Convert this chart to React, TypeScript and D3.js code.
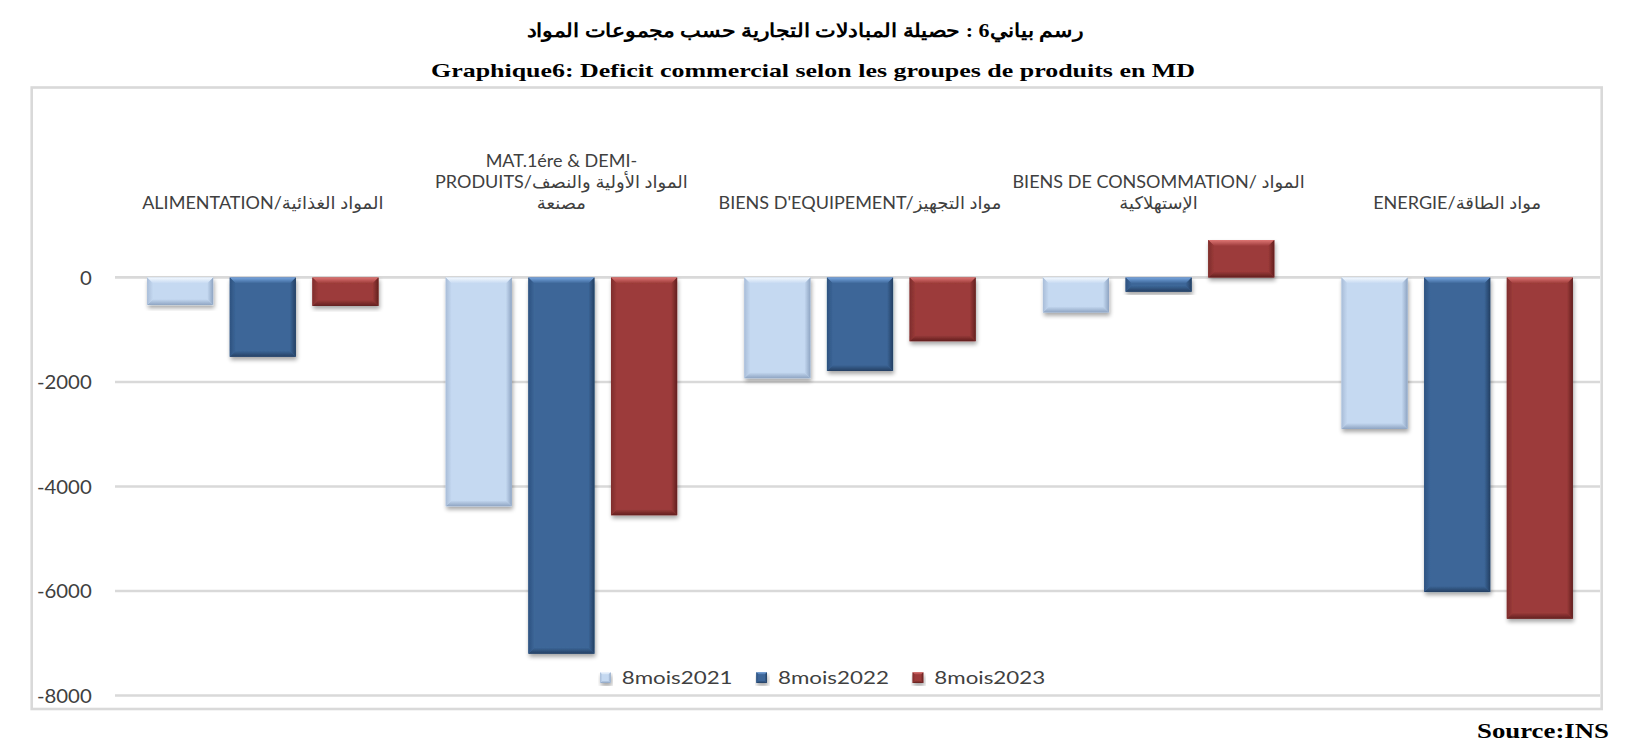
import React, { useEffect, useRef } from "react";
import * as d3 from "d3";

// chart data
const categoryLines: string[][] = [
  ["ALIMENTATION/المواد الغذائية"],
  ["MAT.1ére & DEMI-", "PRODUITS/المواد الأولية والنصف", "مصنعة"],
  ["BIENS D'EQUIPEMENT/مواد التجهيز"],
  ["BIENS DE CONSOMMATION/ المواد", "الإستهلاكية"],
  ["ENERGIE/مواد الطاقة"],
];
const seriesNames = ["8mois2021", "8mois2022", "8mois2023"];
const values2021 = [-530, -4380, -1930, -670, -2900];
const values2022 = [-1520, -7200, -1790, -275, -6020];
const values2023 = [-545, -4550, -1220, 715, -6530];
const yTicks = [0, -2000, -4000, -6000, -8000];

const titleAr = "رسم بياني6 : حصيلة المبادلات التجارية حسب مجموعات المواد";
const titleFr = "Graphique6: Deficit commercial selon les groupes de produits en MD";
const sourceText = "Source:INS";

const colors = [
  { base: "#c5d9f1", hi: "#f4f9ff", lo: "#8ea4c2", side: "#a9bdd8" },
  { base: "#3c6698", hi: "#78a6e0", lo: "#243f62", side: "#2e5280" },
  { base: "#9c3b3a", hi: "#de7573", lo: "#62201f", side: "#7e2d2c" },
];

const W = 1649;
const H = 748;
const SANS = "Lato, 'DejaVu Sans', sans-serif";
const SERIF = "'Liberation Serif', 'DejaVu Serif', serif";

const App = () => {
  const ref = useRef<SVGSVGElement>(null);

  useEffect(() => {
    const svg = d3.select(ref.current);
    svg.selectAll("*").remove();
    svg.attr("width", W).attr("height", H).style("background", "#fff");

    const seriesValues = [values2021, values2022, values2023];
    const idx = categoryLines.map((_, i) => i);

    const x0 = d3.scaleBand<number>().domain(idx).range([113.5, 1606.5]).paddingInner(0.225).paddingOuter(0.1125);
    const x1 = d3.scaleBand<number>().domain([0, 1, 2]).range([0, x0.bandwidth()]).paddingInner(0.2);
    const y = d3.scaleLinear().domain([-8000, 0]).range([695.5, 277.4]);

    const defs = svg.append("defs");
    const f = defs.append("filter").attr("id", "shadow").attr("x", "-20%").attr("y", "-20%").attr("width", "140%").attr("height", "140%");
    f.append("feGaussianBlur").attr("in", "SourceAlpha").attr("stdDeviation", 2.2);
    f.append("feOffset").attr("dx", 1).attr("dy", 3).attr("result", "ob");
    f.append("feComponentTransfer").attr("in", "ob").attr("result", "sh")
      .append("feFuncA").attr("type", "linear").attr("slope", 0.35);
    const merge = f.append("feMerge");
    merge.append("feMergeNode").attr("in", "sh");
    merge.append("feMergeNode").attr("in", "SourceGraphic");

    const soft = defs.append("filter").attr("id", "soft");
    soft.append("feGaussianBlur").attr("stdDeviation", 0.6);

    // gradients for bevel strips
    colors.forEach((c, i) => {
      const mk = (id: string, x2: number, y2: number, a: string, b: string) => {
        const g = defs.append("linearGradient").attr("id", id)
          .attr("x1", 0).attr("y1", 0).attr("x2", x2).attr("y2", y2);
        g.append("stop").attr("offset", "0%").attr("stop-color", a);
        g.append("stop").attr("offset", "100%").attr("stop-color", b);
      };
      mk(`top${i}`, 0, 1, c.hi, c.base);
      mk(`bot${i}`, 0, 1, c.base, c.lo);
      mk(`lft${i}`, 1, 0, c.side, c.base);
      mk(`rgt${i}`, 1, 0, c.base, c.lo);
    });

    const bevelBar = (g: any, x: number, yy: number, w: number, h: number, s: number, b: number) => {
      const bb = Math.min(b, h / 2, w / 2);
      const grp = g.append("g").attr("filter", "url(#shadow)");
      grp.append("rect").attr("x", x).attr("y", yy).attr("width", w).attr("height", h).attr("fill", colors[s].base);
      const bev = grp.append("g").attr("filter", "url(#soft)");
      const poly = (pts: number[][], fill: string) =>
        bev.append("polygon").attr("points", pts.map((p) => p.join(",")).join(" ")).attr("fill", fill);
      poly([[x, yy], [x + w, yy], [x + w - bb, yy + bb], [x + bb, yy + bb]], `url(#top${s})`);
      poly([[x, yy + h], [x + w, yy + h], [x + w - bb, yy + h - bb], [x + bb, yy + h - bb]], `url(#bot${s})`);
      poly([[x, yy], [x + bb, yy + bb], [x + bb, yy + h - bb], [x, yy + h]], `url(#lft${s})`);
      poly([[x + w, yy], [x + w - bb, yy + bb], [x + w - bb, yy + h - bb], [x + w, yy + h]], `url(#rgt${s})`);
    };

    // frame
    svg.append("rect").attr("x", 31.7).attr("y", 87.5).attr("width", 1570).attr("height", 621.5)
      .attr("fill", "#fff").attr("stroke", "#d9d9d9").attr("stroke-width", 2.6);

    // gridlines
    svg.append("g").selectAll("line").data(yTicks).join("line")
      .attr("x1", 115).attr("x2", 1600)
      .attr("y1", (d) => y(d)).attr("y2", (d) => y(d))
      .attr("stroke", "#d9d9d9").attr("stroke-width", 2.6);

    // y tick labels
    svg.append("g").selectAll("text").data(yTicks).join("text")
      .attr("transform", (d) => `translate(91.7,${y(d)}) scale(1.1,1)`)
      .attr("text-anchor", "end").attr("dominant-baseline", "central")
      .attr("font-family", SANS).attr("font-size", 18.5).attr("fill", "#404040")
      .text((d) => String(d));

    // bars
    const barsG = svg.append("g");
    seriesValues.forEach((vals, s) => {
      vals.forEach((v, j) => {
        const x = (x0(j) ?? 0) + (x1(s) ?? 0);
        const top = Math.min(y(0), y(v));
        const h = Math.abs(y(v) - y(0));
        bevelBar(barsG, x, top, x1.bandwidth(), h, s, 6);
      });
    });

    // category labels, placed above the plot, bottom aligned
    const lineH = 20.7;
    const labelBase = 208.5;
    categoryLines.forEach((lines, j) => {
      const cx = (x0(j) ?? 0) + x0.bandwidth() / 2;
      lines.forEach((ln, k) => {
        const by = labelBase - (lines.length - 1 - k) * lineH;
        svg.append("text")
          .attr("transform", `translate(${cx},${by}) scale(1.03,1)`)
          .attr("text-anchor", "middle")
          .attr("font-family", SANS).attr("font-size", 17.5).attr("fill", "#404040")
          .text(ln);
      });
    });

    // legend
    const legend = svg.append("g");
    seriesNames.forEach((name, s) => {
      const lx = 600 + s * 156.3;
      bevelBar(legend, lx, 672.3, 10.7, 10.7, s, 2.5);
      legend.append("text")
        .attr("transform", `translate(${lx + 21.7},684.3) scale(1.27,1)`)
        .attr("font-family", SANS).attr("font-size", 17.6).attr("fill", "#404040")
        .text(name);
    });

    // titles
    svg.append("text")
      .attr("x", 805).attr("y", 37).attr("direction", "rtl").attr("text-anchor", "middle")
      .attr("font-family", SERIF).attr("font-weight", "bold").attr("font-size", 19)
      .attr("textLength", 556).attr("lengthAdjust", "spacingAndGlyphs")
      .text(titleAr);
    svg.append("text")
      .attr("x", 813).attr("y", 76.5).attr("text-anchor", "middle")
      .attr("font-family", SERIF).attr("font-weight", "bold").attr("font-size", 19)
      .attr("textLength", 764).attr("lengthAdjust", "spacingAndGlyphs")
      .text(titleFr);
    svg.append("text")
      .attr("x", 1477).attr("y", 738.3)
      .attr("font-family", SERIF).attr("font-weight", "bold").attr("font-size", 22)
      .attr("textLength", 132).attr("lengthAdjust", "spacingAndGlyphs")
      .text(sourceText);
  }, []);

  return (
    <div style={{ position: "absolute", left: 0, top: 0 }}>
      <svg ref={ref} style={{ display: "block" }}></svg>
    </div>
  );
};

export default App;
